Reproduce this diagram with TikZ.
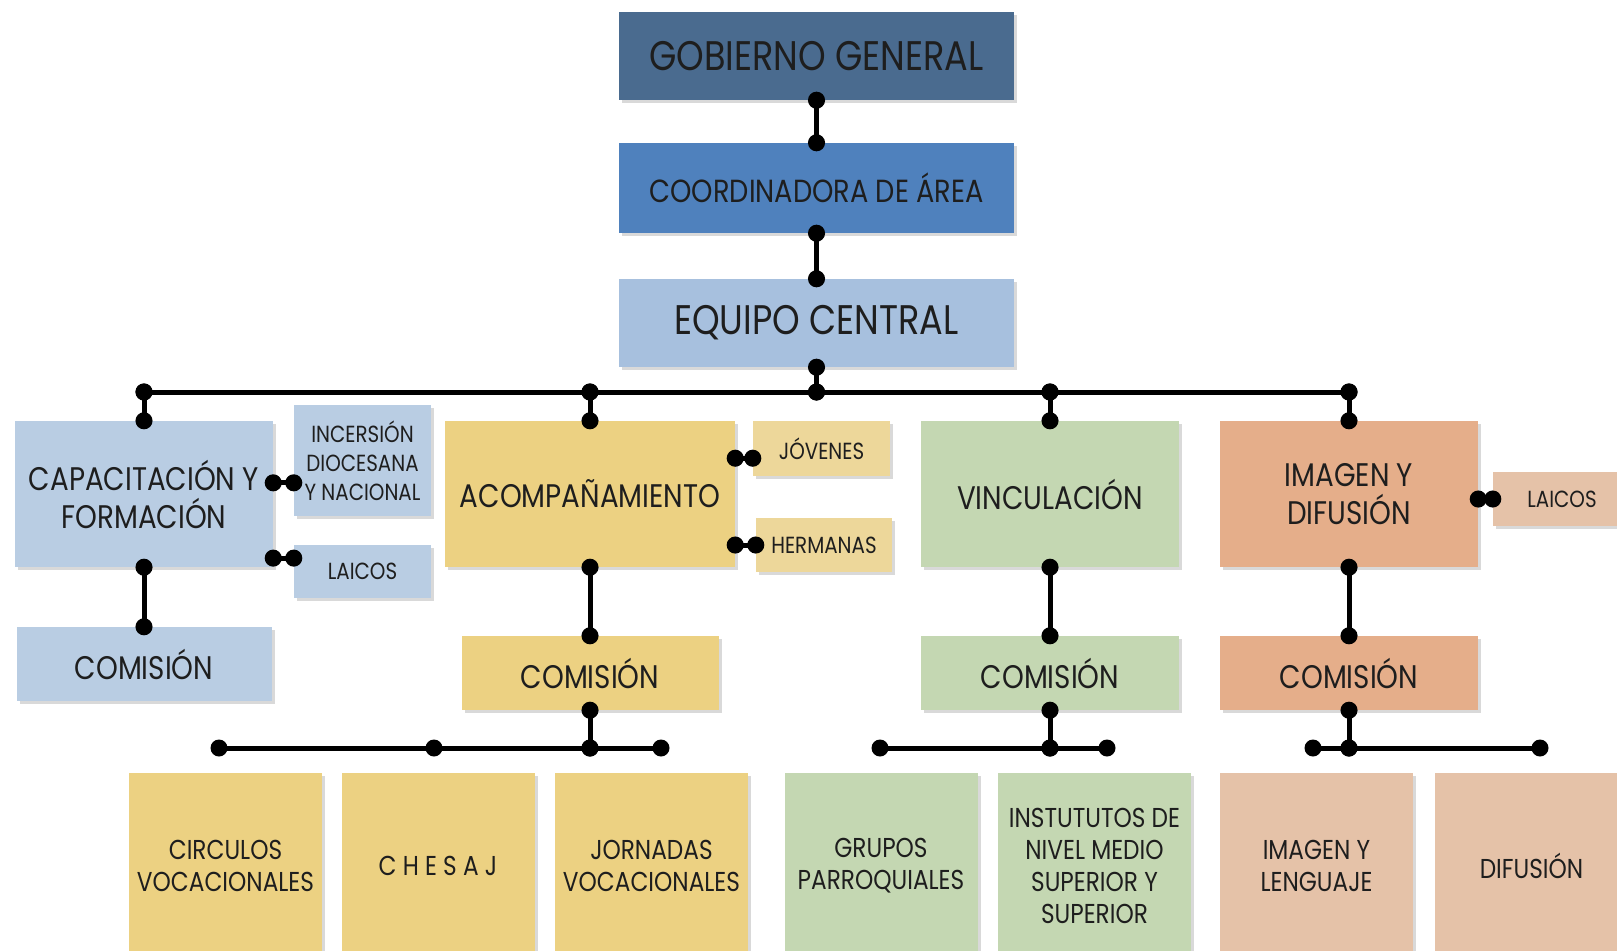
\documentclass[tikz,border=0pt]{standalone}
\usepackage{fontspec}
\setmainfont{Poppins}[FakeStretch=0.85]
\usepackage{tikz}
\usetikzlibrary{arrows.meta,shadows,calc}
\definecolor{gobc}{RGB}{74,107,143}
\definecolor{coordc}{RGB}{79,129,189}
\definecolor{equic}{RGB}{167,192,222}
\definecolor{bluec}{RGB}{185,205,227}
\definecolor{yelc}{RGB}{236,209,130}
\definecolor{yellc}{RGB}{237,215,154}
\definecolor{greenc}{RGB}{196,215,178}
\definecolor{orc}{RGB}{229,174,138}
\definecolor{orlc}{RGB}{229,194,168}
\definecolor{txtc}{RGB}{30,30,30}

\tikzset{
  box/.style={rectangle, inner sep=0pt, align=center, text=txtc,
    drop shadow={shadow xshift=2.5pt, shadow yshift=-2.5pt, opacity=0.3}},
  link/.style={line width=3.75pt, {Circle[length=12.75pt]}-{Circle[length=12.75pt]},
    shorten <=-6.4pt, shorten >=-6.4pt},
  wire/.style={line width=3.75pt},
  dot/.style={circle, fill=black, inner sep=0pt, minimum size=12.75pt},
  bigtxt/.style={font=\fontsize{24.5}{28.5}\selectfont},
  smalltxt/.style={font=\fontsize{17.5}{21.75}\selectfont},
  leaf/.style={box, minimum width=144.75pt, minimum height=139.5pt,
    font=\fontsize{20.5}{24}\selectfont},
}

\begin{document}
\begin{tikzpicture}[x=0.75pt,y=0.75pt,yscale=-1,xscale=1]
\useasboundingbox (0,0) rectangle (1617,950);

% top of the chart
\node[box, fill=gobc, minimum width=296.25pt, minimum height=66pt, font=\fontsize{31}{36}\selectfont] (gob) at (816.5,56) {GOBIERNO GENERAL};
\node[box, fill=coordc, minimum width=296.25pt, minimum height=67.5pt, font=\fontsize{24}{28}\selectfont] (coord) at (816.5,188) {COORDINADORA DE ÁREA};
\node[box, fill=equic, minimum width=296.25pt, minimum height=66pt, font=\fontsize{31}{36}\selectfont] (equi) at (816.5,323) {EQUIPO CENTRAL};

% areas
\node[box, bigtxt, fill=bluec, minimum width=193.5pt, minimum height=109.5pt] (cap) at (144,494) {CAPACITACIÓN Y\\FORMACIÓN};
\node[box, smalltxt, fill=bluec, minimum width=102.75pt, minimum height=83.25pt] (inc) at (362.5,460.5) {INCERSIÓN\\DIOCESANA\\Y NACIONAL};
\node[box, smalltxt, fill=bluec, minimum width=102.75pt, minimum height=39.75pt] (laiA) at (362.5,571.5) {LAICOS};
\node[box, bigtxt, fill=yelc, minimum width=217.5pt, minimum height=109.5pt] (acomp) at (590,494) {ACOMPAÑAMIENTO};
\node[box, smalltxt, fill=yellc, minimum width=102.75pt, minimum height=41.25pt] (jov) at (821.5,448.5) {JÓVENES};
\node[box, smalltxt, fill=yellc, minimum width=102pt, minimum height=40.5pt] (herm) at (824,545) {HERMANAS};
\node[box, bigtxt, fill=greenc, minimum width=193.5pt, minimum height=109.5pt] (vinc) at (1050,494) {VINCULACIÓN};
\node[box, bigtxt, fill=orc, minimum width=193.5pt, minimum height=109.5pt] (imag) at (1349,494) {IMAGEN Y\\DIFUSIÓN};
\node[box, smalltxt, fill=orlc, minimum width=103.5pt, minimum height=40.5pt] (laiB) at (1562,499) {LAICOS};

% comisiones
\node[box, bigtxt, fill=bluec, minimum width=191.25pt, minimum height=55.5pt] (comA) at (144,664) {COMISIÓN};
\node[box, bigtxt, fill=yelc, minimum width=192.75pt, minimum height=55.5pt] (comB) at (590,673) {COMISIÓN};
\node[box, bigtxt, fill=greenc, minimum width=193.5pt, minimum height=55.5pt] (comC) at (1050,673) {COMISIÓN};
\node[box, bigtxt, fill=orc, minimum width=193.5pt, minimum height=55.5pt] (comD) at (1349,673) {COMISIÓN};

% bottom row
\node[leaf, fill=yelc] (circ) at (225.5,866) {CIRCULOS\\VOCACIONALES};
\node[leaf, fill=yelc] (ches) at (438,866) {C H E S A J};
\node[leaf, fill=yelc] (jorn) at (651.5,866) {JORNADAS\\VOCACIONALES};
\node[leaf, fill=greenc] (grup) at (881,866) {GRUPOS\\PARROQUIALES};
\node[leaf, fill=greenc] (inst) at (1094.5,866) {INSTUTUTOS DE\\NIVEL MEDIO\\SUPERIOR Y\\SUPERIOR};
\node[leaf, fill=orlc] (imlen) at (1316.5,866) {IMAGEN Y\\LENGUAJE};
\node[leaf, fill=orlc] (difu) at (1531.5,866) {DIFUSIÓN};

% bus dots
\node[dot] (b1) at (144,392) {};
\node[dot] (b2) at (590,392) {};
\node[dot] (b3) at (816.5,392) {};
\node[dot] (b4) at (1050,392) {};
\node[dot] (b5) at (1349,392) {};
\node[dot] (aL) at (219,748) {};
\node[dot] (aM) at (434,748) {};
\node[dot] (aJ) at (590,748) {};
\node[dot] (aR) at (661,748) {};
\node[dot] (vL) at (880,748) {};
\node[dot] (vJ) at (1050,748) {};
\node[dot] (vR) at (1107,748) {};
\node[dot] (iL) at (1313,748) {};
\node[dot] (iJ) at (1349,748) {};
\node[dot] (iR) at (1540,748) {};

% side points
\coordinate (incpt) at ($(inc.west)!0.4!(inc.south west)$);
\coordinate (laipt) at ($(laiA.west)!0.5!(laiA.north west)$);
\coordinate (jovpt) at ($(jov.west)!0.35!(jov.south west)$);

% connectors
\draw[link] (gob.south) -- (coord.north);
\draw[link] (coord.south) -- (equi.north);
\draw[link] (equi.south) -- (b3.center);
\draw[wire] (b1.center) -- (b5.center);
\draw[link] (b1.center) -- (cap.north);
\draw[link] (b2.center) -- (acomp.north);
\draw[link] (b4.center) -- (vinc.north);
\draw[link] (b5.center) -- (imag.north);

\draw[link] (cap.east |- incpt) -- (incpt);
\draw[link] (cap.east |- laipt) -- (laipt);
\draw[link] (acomp.east |- jovpt) -- (jovpt);
\draw[link] (acomp.east |- herm.west) -- (herm.west);
\draw[link] (imag.east |- laiB.west) -- (laiB.west);

\draw[link] (cap.south) -- (comA.north);
\draw[link] (acomp.south) -- (comB.north);
\draw[link] (vinc.south) -- (comC.north);
\draw[link] (imag.south) -- (comD.north);

\draw[wire] (aL.center) -- (aR.center);
\draw[link] (comB.south) -- (aJ.center);
\draw[wire] (vL.center) -- (vR.center);
\draw[link] (comC.south) -- (vJ.center);
\draw[wire] (iL.center) -- (iR.center);
\draw[link] (comD.south) -- (iJ.center);

\end{tikzpicture}
\end{document}
